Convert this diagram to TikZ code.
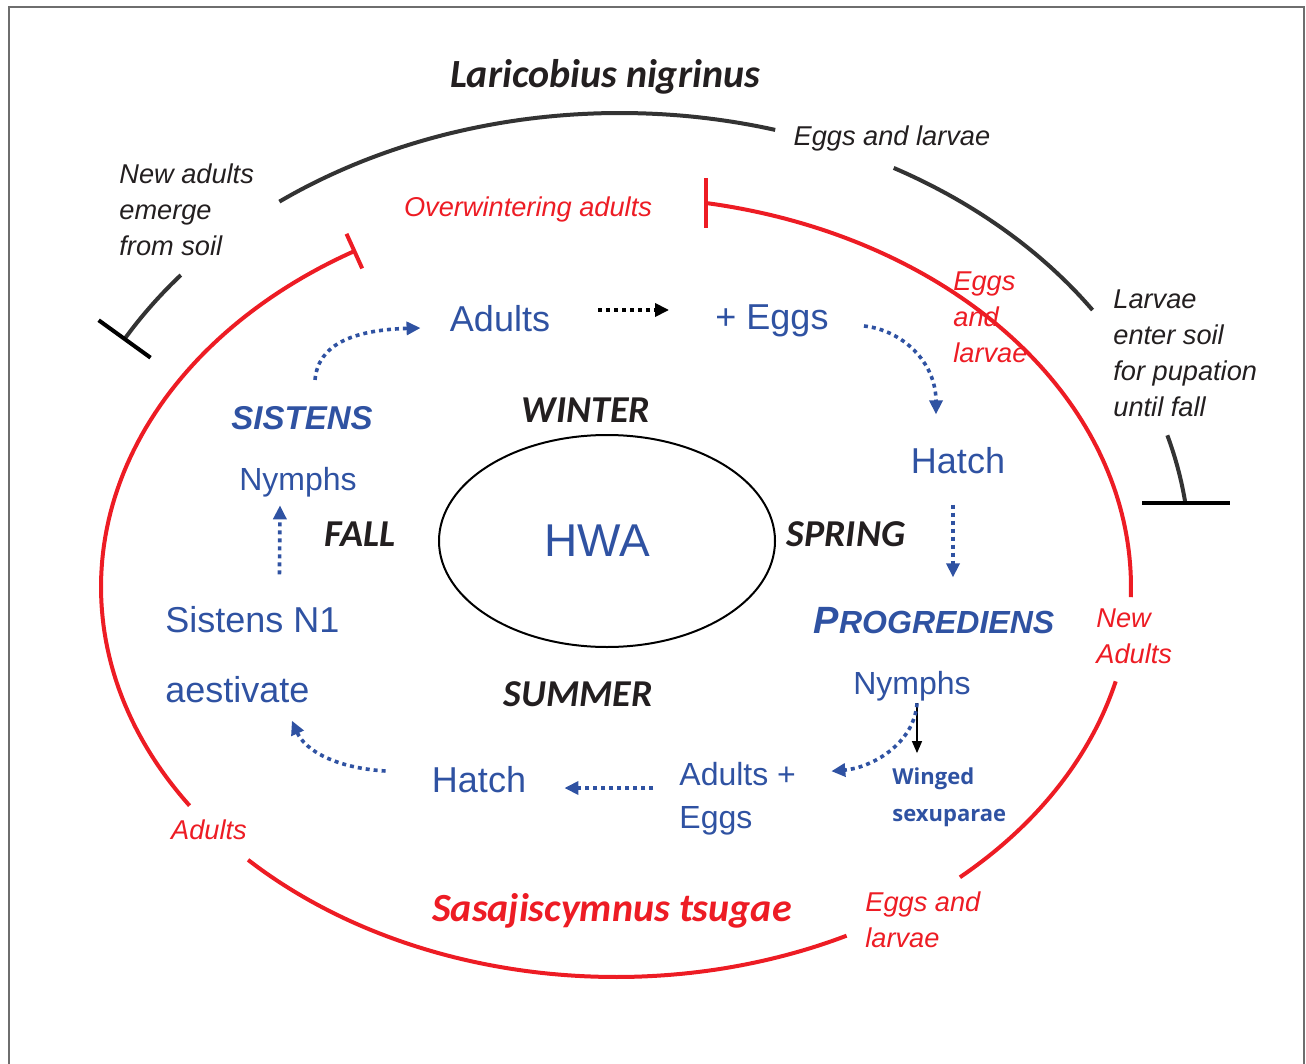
\documentclass[tikz,border=0pt]{standalone}
\usepackage{fontspec}
\setmainfont{Liberation Sans}
\newfontfamily\calfont{Carlito}
\newfontfamily\wingfont{Open Sans}
\usetikzlibrary{arrows.meta,shapes.geometric}
\definecolor{hwablue}{RGB}{47,82,162}
\definecolor{hwared}{RGB}{237,28,36}
\definecolor{ink}{RGB}{35,31,32}
\definecolor{arcgray}{RGB}{51,51,51}
\definecolor{framegray}{RGB}{110,110,110}

\begin{document}
\begin{tikzpicture}[x=0.5pt,y=-0.5pt,every node/.style={inner sep=1pt}]
\tikzstyle{stage}=[text=hwablue,font=\fontsize{18}{21.5}\selectfont,align=left]
\tikzstyle{small}=[text=hwablue,font=\fontsize{16}{21.5}\selectfont,align=left]
\tikzstyle{season}=[text=ink,font=\calfont\bfseries\itshape\fontsize{19}{22}\selectfont]
\tikzstyle{species}=[font=\calfont\bfseries\itshape\fontsize{20}{24}\selectfont]
\tikzstyle{note}=[text=ink,font=\itshape\fontsize{13.6}{18}\selectfont,align=left]
\tikzstyle{rednote}=[note,text=hwared]
\tikzstyle{dots}=[draw,hwablue,line width=1.8pt,dash pattern=on 2pt off 2pt,-{Triangle[length=7pt,width=6.5pt]}]
\tikzstyle{redarc}=[draw,hwared,line width=2pt]
\tikzstyle{blackarc}=[draw,arcgray,line width=2pt]
\useasboundingbox (0,0) rectangle (1306,1064);
\draw[framegray,line width=1pt] (9,1064) -- (9,7) -- (1304,7) -- (1304,1064);

% Laricobius ring
\path[blackarc,-{Bar[width=44pt,color=black]}] plot[domain=-16.2:-7.2,samples=20] ({620+570*cos(\x)},{560+447*sin(\x)}) -- ++(0,1);
\path[blackarc] plot[domain=-61.3:-34,samples=40] ({620+570*cos(\x)},{560+447*sin(\x)});
\path[blackarc] plot[domain=-126.7:-74.2,samples=60] ({620+570*cos(\x)},{560+447*sin(\x)});
\path[blackarc,{Bar[width=32pt,color=black]}-] plot[domain=-150.6:-140.4,samples=20] ({620+570*cos(\x)},{560+447*sin(\x)});

% Sasajiscymnus ring
\path[redarc,-{Bar[width=25pt]}] plot[domain=1.5:-80,samples=80] ({616+515*cos(\x)},{587+390*sin(\x)}) -- ++(-1,0);
\path[redarc] plot[domain=14:48.1,samples=40] ({616+515*cos(\x)},{587+390*sin(\x)});
\path[redarc] plot[domain=63.4:135.6,samples=80] ({616+515*cos(\x)},{587+390*sin(\x)});
\path[redarc,-{Bar[width=19pt]}] plot[domain=145.9:239.7,samples=80] ({616+515*cos(\x)},{587+390*sin(\x)});

% species and notes
\node[species,text=ink] (lari) at (605,77) {Laricobius nigrinus};
\node[species,text=hwared] (sasa) at (612,911) {Sasajiscymnus tsugae};
\node[note,anchor=west] (emerge) at (117,210) {New adults\\emerge\\from soil};
\node[note] (eggsL) at (892,138) {Eggs and larvae};
\node[note,anchor=west] (pupa) at (1111,353) {Larvae\\enter soil\\for pupation\\until fall};
\node[rednote] (overw) at (528,209) {Overwintering adults};
\node[rednote,anchor=west] (eggsS) at (951,317) {Eggs\\and\\larvae};
\node[rednote,anchor=west] (newS) at (1094,636) {New\\Adults};
\node[rednote] (adS) at (209,830) {Adults};
\node[rednote,anchor=west] (larS) at (863,920) {Eggs and\\larvae};

% seasons
\node[season] (win) at (586,410) {WINTER};
\node[season] (spr) at (846,534) {SPRING};
\node[season] (fal) at (360,534) {FALL};
\node[season] (sum) at (578,694) {SUMMER};
\node[draw,ellipse,line width=1pt,inner sep=0pt,minimum width=168pt,minimum height=106pt,text=hwablue,font=\fontsize{23}{26}\selectfont] (hwa) at (607,541) {HWA\kern10pt};

% HWA stages
\node[stage] (w0) at (500,319) {Adults};
\node[stage] (w1) at (772,321) {+ Eggs};
\node[stage] (s0) at (958,461) {Hatch};
\node[text=hwablue,font=\bfseries\itshape] (s1) at (934,621) {{\fontsize{19}{22}\selectfont P}{\fontsize{16}{22}\selectfont ROGREDIENS}};
\node[small] (s2) at (912,686) {Nymphs};
\node[text=hwablue,font=\wingfont\bfseries\fontsize{11}{18.5}\selectfont,align=left,anchor=west] (s3) at (890,797) {Winged\\sexuparae};
\node[small,anchor=west] (u0) at (677,799) {Adults +\\Eggs};
\node[stage] (u1) at (479,780) {Hatch};
\node[stage,anchor=west] (f0) at (163,620) {Sistens N1};
\node[stage,anchor=west] (f1) at (163,690) {aestivate};
\node[small] (f2) at (298,482) {Nymphs};
\node[text=hwablue,font=\bfseries\itshape\fontsize{16.5}{20}\selectfont] (f3) at (302,418) {SISTENS};

% cycle
\path[dots] ([shift={(6.5pt,12pt)}]f3.north) .. controls (318,345) and (352,330) .. ([shift={(-13.5pt,-4.5pt)}]w0.west);
\path[dots,black] ([shift={(23pt,4.5pt)}]w0.east) -- ([shift={(-22pt,5.5pt)}]w1.west);
\path[dots] ([shift={(16.5pt,-2.5pt)}]w1.east) .. controls (902,330) and (936,362) .. ([shift={(-11pt,15.5pt)}]s0.north);
\path[dots] ([shift={(-2.5pt,-14pt)}]s0.south) -- ([shift={(9.5pt,14pt)}]s1.north);
\draw[-{Triangle[length=6pt,width=5pt]},line width=0.7pt] ([xshift=2.5pt]s2.south) -- ([shift={(13.5pt,6pt)}]s3.north west);
\path[dots] ([xshift=2.5pt]s2.south) .. controls (914,745) and (870,768) .. ([shift={(16.5pt,-5.5pt)}]u0.north east);
\path[dots] ([shift={(-12pt,5.5pt)}]u0.west) -- ([shift={(18pt,-4pt)}]u1.east);
\path[dots] ([shift={(-22pt,4.5pt)}]u1.west) .. controls (335,768) and (305,750) .. ([shift={(-10pt,-7.5pt)}]f1.south east);
\path[dots] ([shift={(13.5pt,15pt)}]f0.north) -- ([shift={(-9pt,-3pt)}]f2.south);
\end{tikzpicture}
\end{document}
